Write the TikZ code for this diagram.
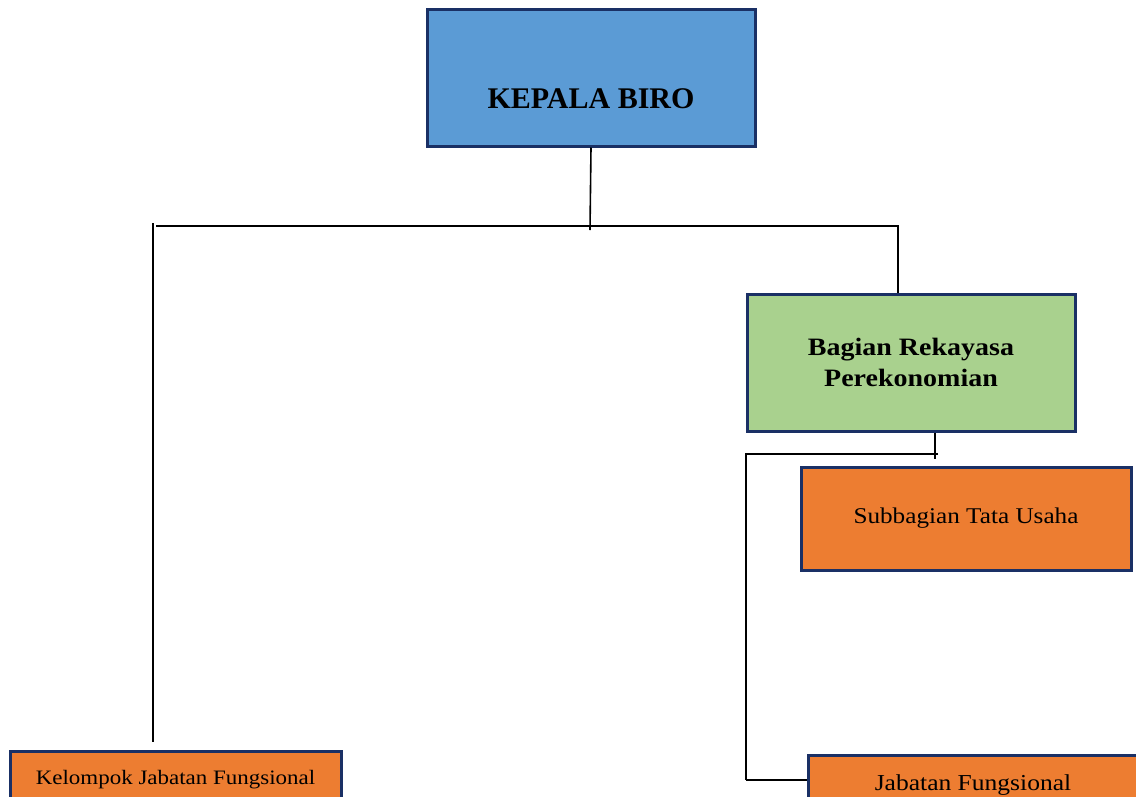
\documentclass[tikz,border=0pt]{standalone}
\usepackage{fontspec}
\setmainfont{Liberation Serif}[FakeStretch=1.12]
\newfontfamily\capfont{Liberation Serif}
\definecolor{navy}{HTML}{1A3065}
\definecolor{kblue}{HTML}{5B9BD5}
\definecolor{kgreen}{HTML}{A9D18E}
\definecolor{korange}{HTML}{ED7D31}
\tikzset{
  box/.style={draw=navy, line width=3pt, inner sep=0pt, align=center, text=black},
  conn/.style={draw=black, line width=1.6pt}
}
\begin{document}
\begin{tikzpicture}[x=1pt, y=-1pt]
\useasboundingbox (0,0) rectangle (1136,796);
\clip (0,0) rectangle (1136,796);
% boxes
\node[box, fill=kblue, minimum width=328pt, minimum height=137pt] (kb) at (591,77.5) {};
\node[anchor=base, font=\capfont\fontsize{30}{32}\selectfont\bfseries] (kbt) at (591,108) {KEPALA BIRO};
\node[box, fill=kgreen, minimum width=328pt, minimum height=137pt,
      font=\fontsize{25}{31}\selectfont\bfseries] (br) at (911,362.5) {Bagian Rekayasa\\Perekonomian};
\node[box, fill=korange, minimum width=330pt, minimum height=103pt,
      font=\fontsize{22.5}{26}\selectfont] (st) at (966,518.5) {Subbagian Tata Usaha};
\node[box, fill=korange, minimum width=331pt, minimum height=58pt,
      font=\fontsize{20.5}{24}\selectfont] (kjf) at (175.5,780) {Kelompok Jabatan Fungsional};
\node[box, fill=korange, minimum width=330pt, minimum height=60pt,
      font=\fontsize{22.8}{26}\selectfont] (jf) at (973,785) {Jabatan Fungsional};
% coordinates
\coordinate (hL) at (156,226);
\coordinate (hR) at (898,226);
\coordinate (hM) at (590,230);
\coordinate (vLt) at (153,223);
\coordinate (vLb) at (153,742);
\coordinate (bD) at (935,459);
\coordinate (h2R) at (938,454);
\coordinate (h2L) at (746,454);
\coordinate (v2b) at (746,780);
% connectors
\draw[conn] (kb.south) -- (hM);
\draw[conn] (hL) -- (hR) -- (hR |- br.north);
\draw[conn] (vLt) -- (vLb);
\draw[conn] ([xshift=24pt]br.south) -- (bD);
\draw[conn] (h2R) -- (h2L) -- (v2b);
\draw[conn, line width=2.4pt] (v2b) -- (v2b -| jf.west);
\end{tikzpicture}
\end{document}
